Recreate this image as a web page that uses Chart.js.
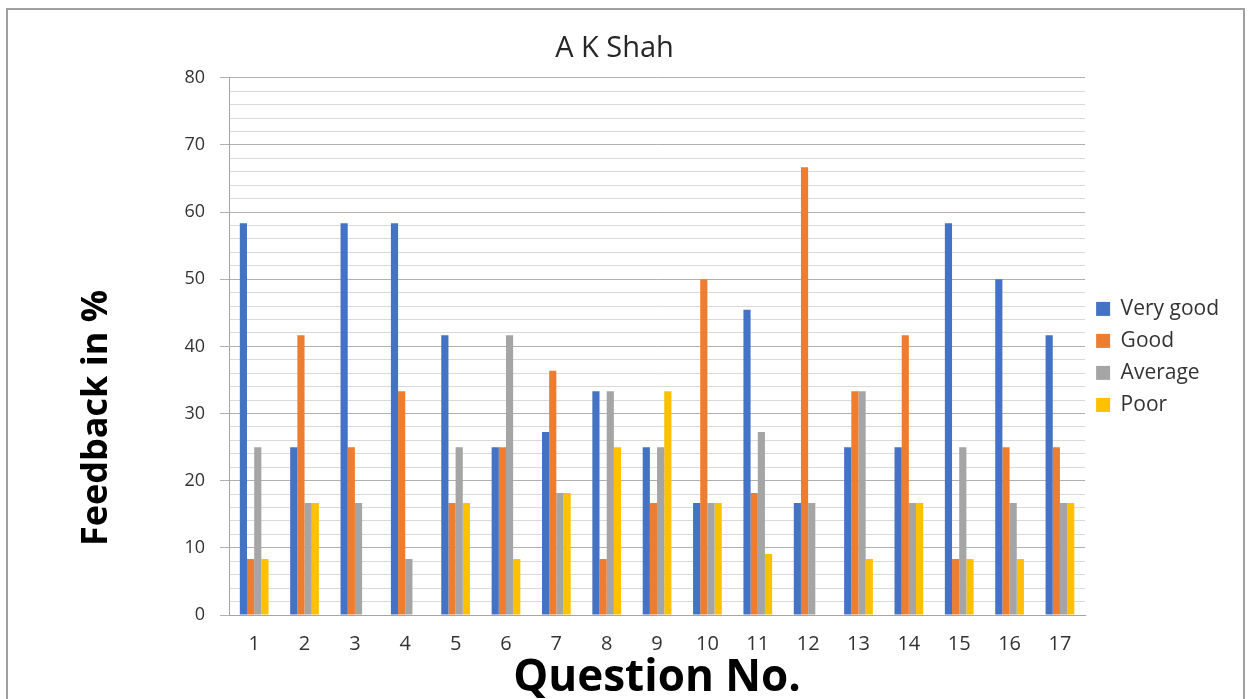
<!DOCTYPE html>
<html><head><meta charset="utf-8">
<script src="https://cdn.jsdelivr.net/npm/chart.js@4"></script>
<style>
html,body{margin:0;padding:0;background:#fff;}
#frame{position:absolute;left:6px;top:8px;width:1239px;height:720px;border:2px solid #a0a0a0;box-sizing:border-box;}
#wrap{position:absolute;left:0;top:0;width:1253px;height:699px;}
</style></head>
<body>
<div id="frame"></div>
<div id="wrap"><canvas id="c" width="1253" height="699"></canvas></div>
<script>
const categories = ['1','2','3','4','5','6','7','8','9','10','11','12','13','14','15','16','17'];
const veryGood = [58.33,25,58.33,58.33,41.67,25,27.27,33.33,25,16.67,45.45,16.67,25,25,58.33,50,41.67];
const good     = [8.33,41.67,25,33.33,16.67,25,36.36,8.33,16.67,50,18.18,66.67,33.33,41.67,8.33,25,25];
const average  = [25,16.67,16.67,8.33,25,41.67,18.18,33.33,25,16.67,27.27,16.67,33.33,16.67,25,16.67,16.67];
const poor     = [8.33,16.67,0,0,16.67,8.33,18.18,25,33.33,16.67,9.09,0,8.33,16.67,8.33,8.33,16.67];
const seriesNames = ['Very good','Good','Average','Poor'];
const colors = ['#4472C4','#ED7D31','#A5A5A5','#FFC000'];
const yTitle = 'Feedback in %';
const xTitle = 'Question No.';
const chartTitle = 'A K Shah';

const yTitlePlugin = {
  id:'yTitle',
  afterDraw(chart){
    const ctx = chart.ctx;
    ctx.save();
    ctx.translate(97, 418);
    ctx.rotate(-Math.PI/2);
    ctx.font = 'bold 36px "Open Sans"';
    ctx.fillStyle = '#000';
    ctx.textAlign = 'center';
    ctx.textBaseline = 'middle';
    ctx.fillText(yTitle, 0, 0);
    ctx.restore();
  }
};

const data = {
  labels: categories,
  datasets: [veryGood, good, average, poor].map((d,i)=>({
    label: seriesNames[i], data: d, backgroundColor: colors[i], borderWidth:0,
    categoryPercentage:0.57, barPercentage:1.0
  }))
};

new Chart(document.getElementById('c'), {
  type:'bar',
  data,
  plugins:[yTitlePlugin],
  options:{
    responsive:false, animation:false,
    layout:{padding:{left:0,right:24,top:0,bottom:0}},
    plugins:{
      title:{display:true,text:chartTitle,color:'#262626',font:{family:'Open Sans',size:29,weight:'normal'},padding:{top:31,bottom:12}},
      legend:{position:'right',align:'center',
        title:{display:true,text:' ',font:{size:4},padding:5},
        labels:{boxWidth:14,boxHeight:14,padding:11,color:'#333',font:{family:'Open Sans',size:21}}},
      tooltip:{enabled:false}
    },
    scales:{
      x:{
        grid:{display:false,drawTicks:false},
        border:{display:true,color:'#a6a6a6',width:1},
        ticks:{color:'#333',font:{family:'Open Sans',size:20},padding:17,maxRotation:0},
        title:{display:true,text:xTitle,color:'#000',font:{family:'Open Sans',size:44,weight:'bold'},padding:{top:0,bottom:-6}},
        afterFit(s){ s.height = 84; }
      },
      y:{
        min:0,max:80,
        ticks:{stepSize:2,color:'#333',font:{family:'Open Sans',size:18},padding:15,autoSkip:false,
          callback:(v)=> (v%10===0 ? String(v) : '')},
        grid:{
          color:(c)=> (c.tick && c.tick.value%10===0) ? '#b0b0b0' : '#d9d9d9',
          tickColor:(c)=> (c.tick && c.tick.value%10===0) ? '#b0b0b0' : 'rgba(0,0,0,0)',
          tickLength:9, lineWidth:1
        },
        border:{display:true,color:'#a6a6a6',width:1},
        afterFit(s){ s.width = 229; }
      }
    }
  }
});
</script>
</body></html>
